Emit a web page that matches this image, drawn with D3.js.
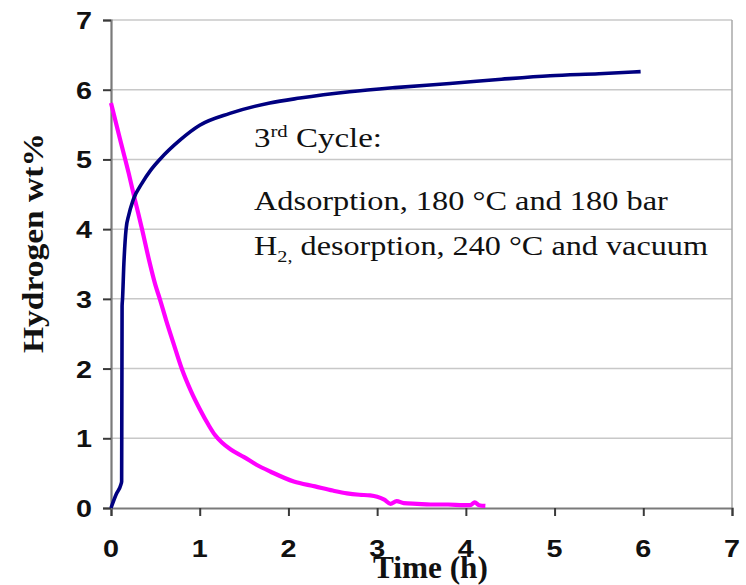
<!DOCTYPE html>
<html>
<head>
<meta charset="utf-8">
<script src="https://cdn.jsdelivr.net/npm/d3@7"></script>
<style>
  html, body { margin: 0; padding: 0; background: #fff; }
  svg { display: block; }
</style>
</head>
<body>
<svg id="chart" width="746" height="585"></svg>
<script>
// Hydrogen uptake (adsorption) and release (desorption), 3rd cycle
const adsTime = [0, 0.06, 0.11, 0.12, 0.125, 0.13, 0.145, 0.17, 0.2, 0.25, 0.35, 0.45, 0.55, 0.78, 1.0, 1.34, 1.79, 2.13, 2.69, 3.2, 3.82, 4.4, 4.95, 5.5, 5.97];
const adsWt   = [0, 0.2, 0.33, 0.38, 2.9, 3.0, 3.5, 4.0, 4.2, 4.42, 4.66, 4.85, 5.0, 5.28, 5.49, 5.66, 5.81, 5.88, 5.97, 6.03, 6.09, 6.15, 6.2, 6.23, 6.26];

const desTime = [0, 0.1, 0.2, 0.27, 0.35, 0.43, 0.5, 0.55, 0.62, 0.7, 0.8, 0.9, 1.0, 1.1, 1.17, 1.25, 1.35, 1.5, 1.64, 1.8, 2.06, 2.3, 2.5, 2.66, 2.8, 2.92, 3.0, 3.08, 3.15, 3.22, 3.3, 3.45, 3.6, 3.8, 3.97, 4.05, 4.1, 4.15, 4.22];
const desWt   = [5.81, 5.3, 4.8, 4.42, 4.0, 3.55, 3.2, 3.0, 2.7, 2.38, 1.99, 1.68, 1.42, 1.19, 1.05, 0.94, 0.84, 0.73, 0.62, 0.52, 0.38, 0.31, 0.25, 0.21, 0.19, 0.18, 0.16, 0.12, 0.06, 0.1, 0.07, 0.06, 0.05, 0.05, 0.04, 0.04, 0.08, 0.04, 0.03];

const xTicks = [0, 1, 2, 3, 4, 5, 6, 7];
const yTicks = [0, 1, 2, 3, 4, 5, 6, 7];

const svg = d3.select("#chart");
const x = d3.scaleLinear().domain([0, 7]).range([111, 732]);
const y = d3.scaleLinear().domain([0, 7]).range([508, 20]);

const serif = "'Liberation Serif', 'Times New Roman', serif";
const sans = "'Liberation Sans', Arial, sans-serif";

// stretch a text element horizontally so it spans the given width from its anchor
function fitWidth(sel, width, anchorX) {
  const w = sel.node().getComputedTextLength();
  const s = width / w;
  sel.attr("transform", `translate(${anchorX},0) scale(${s},1) translate(${-anchorX},0)`);
}

// horizontal gridlines
svg.append("g")
  .selectAll("line")
  .data(yTicks.filter(d => d > 0))
  .join("line")
  .attr("x1", x(0)).attr("x2", x(7))
  .attr("y1", d => y(d)).attr("y2", d => y(d))
  .attr("stroke", "#c8c8c8")
  .attr("stroke-width", 1.5);

// right border
svg.append("line")
  .attr("x1", x(7)).attr("x2", x(7))
  .attr("y1", y(7)).attr("y2", y(0))
  .attr("stroke", "#a8a8a8").attr("stroke-width", 1.5);

// axes
const xAxis = d3.axisBottom(x).tickValues(xTicks).tickSize(8).tickFormat("");
const yAxis = d3.axisLeft(y).tickValues(yTicks).tickSize(8).tickFormat("");

const gx = svg.append("g").attr("transform", `translate(0,${y(0)})`).call(xAxis);
const gy = svg.append("g").attr("transform", `translate(${x(0)},0)`).call(yAxis);
[gx, gy].forEach(g => {
  g.select(".domain").attr("stroke", "#7a7a7a").attr("stroke-width", 2.2);
  g.selectAll(".tick line").attr("stroke", "#3a3a3a").attr("stroke-width", 2);
});

// tick labels
xTicks.forEach(t => {
  const tx = svg.append("text")
    .attr("x", x(t)).attr("y", 557)
    .attr("text-anchor", "middle")
    .attr("font-family", sans).attr("font-weight", "bold").attr("font-size", 24)
    .attr("fill", "#111")
    .text(t);
  fitWidth(tx, 16, x(t));
});
yTicks.forEach(t => {
  const ty = svg.append("text")
    .attr("x", 92).attr("y", y(t) + 9)
    .attr("text-anchor", "end")
    .attr("font-family", sans).attr("font-weight", "bold").attr("font-size", 24)
    .attr("fill", "#111")
    .text(t);
  fitWidth(ty, 16, 92);
});

// data lines
const line = d3.line().x(d => x(d[0])).y(d => y(d[1])).curve(d3.curveMonotoneX);
const adsData = adsTime.map((t, i) => [t, adsWt[i]]);
const desData = desTime.map((t, i) => [t, desWt[i]]);

svg.append("path")
  .datum(desData)
  .attr("d", line)
  .attr("fill", "none")
  .attr("stroke", "#ff00ff")
  .attr("stroke-width", 4.2)
  .attr("stroke-linejoin", "round");

svg.append("path")
  .datum(adsData)
  .attr("d", line)
  .attr("fill", "none")
  .attr("stroke", "#000080")
  .attr("stroke-width", 3.6)
  .attr("stroke-linejoin", "round");

// annotation
const ann = svg.append("g").attr("font-family", serif).attr("fill", "#111").attr("font-size", 27);
const l1 = ann.append("text").attr("x", 254).attr("y", 147);
l1.append("tspan").text("3");
l1.append("tspan").attr("font-size", 17).attr("dy", -10).text("rd");
l1.append("tspan").attr("dy", 10).text(" Cycle:");
fitWidth(l1, 128, 254);

const l2 = ann.append("text").attr("x", 254).attr("y", 210).text("Adsorption, 180 °C and 180 bar");
fitWidth(l2, 414, 254);

const l3 = ann.append("text").attr("x", 254).attr("y", 255);
l3.append("tspan").text("H");
l3.append("tspan").attr("font-size", 17).attr("dy", 7).text("2,");
l3.append("tspan").attr("dy", -7).text(" desorption, 240 °C and vacuum");
fitWidth(l3, 454, 254);

// axis titles
const yTitle = svg.append("text")
  .attr("transform", "translate(43,243) rotate(-90)")
  .attr("text-anchor", "middle")
  .attr("font-family", serif).attr("font-weight", "bold").attr("font-size", 30)
  .attr("fill", "#111")
  .text("Hydrogen wt%");
{
  const w = yTitle.node().getComputedTextLength();
  yTitle.attr("transform", `translate(43,243) rotate(-90) scale(${220 / w},1)`);
}

const xTitle = svg.append("text")
  .attr("x", 373).attr("y", 578)
  .attr("font-family", serif).attr("font-weight", "bold").attr("font-size", 32)
  .attr("fill", "#111")
  .text("Time (h)");
fitWidth(xTitle, 115, 373);
</script>
</body>
</html>
